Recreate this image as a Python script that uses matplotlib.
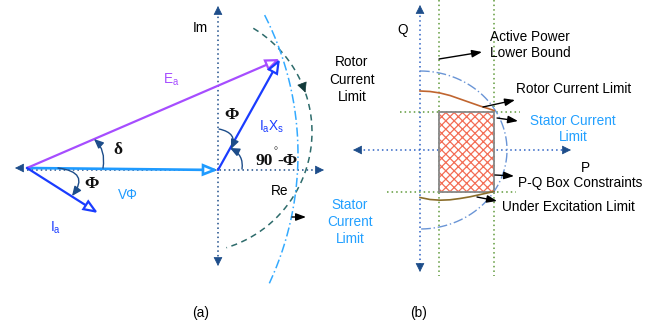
import numpy as np
import matplotlib
matplotlib.use("Agg")
import matplotlib.pyplot as plt
from matplotlib.patches import FancyArrowPatch, Rectangle
from matplotlib.path import Path

plt.rcParams['font.family'] = ['Liberation Sans', 'DejaVu Sans']
plt.rcParams['mathtext.fontset'] = 'custom'
plt.rcParams['mathtext.rm'] = 'Liberation Sans'
plt.rcParams['hatch.linewidth'] = 0.9

# ---------------- data (diagram coordinates, pixel units) ----------------
origin = (27, 168)
vphi_end = (218, 170)
ea_end = (280, 59)
ia_end = (98, 213)
im_axis_x = 218
im_axis_y = (6, 266)
re_axis_y = 170
re_axis_x = (27, 324)
rotor_circle = (191, 132, 121)      # cx, cy, r
rotor_arc_deg = (59, -73)
stator_circle = (-8, 154, 306)
stator_arc_deg = (27, -25)

q_axis_x = 420
q_axis_y = (5, 272)
p_axis_y = 150
p_axis_x = (353, 571)
p_lower, p_upper = 439, 494
q_upper, q_lower = 112, 192
ell_center = (420, 150)
ell_radii = (87, 79)
rotor_curve_x = [420, 430, 440, 450, 460, 470, 480, 488, 494]
rotor_curve_y = [91, 91.5, 93, 95.5, 99, 102.5, 106, 108.5, 110.5]
uel_curve_x = [420, 430, 440, 450, 460, 470, 480, 488, 494]
uel_curve_y = [197.5, 199.5, 200.2, 199.8, 198.5, 196.8, 194.6, 192.8, 191.5]

NAVY = '#1d4d8a'
BLUE = '#1a3cff'
LBLUE = '#1f9bff'
PURPLE = '#a64dff'
TEAL = '#2d6b6b'
GREEN = '#5f9a3a'

fig = plt.figure(figsize=(6.6, 3.26), dpi=100)
ax = fig.add_axes([0, 0, 1, 1])
ax.set_xlim(0, 660)
ax.set_ylim(326, 0)
ax.axis('off')


def head(tip, frm, color=NAVY, ms=7):
    ax.add_patch(FancyArrowPatch(frm, tip, arrowstyle='-|>,head_length=0.8,head_width=0.4',
                                 mutation_scale=ms, color=color, lw=0.5,
                                 shrinkA=0, shrinkB=0, zorder=6))


def vec(a, b, color, lw=1.6):
    ax.add_patch(FancyArrowPatch(a, b, arrowstyle='-|>,head_length=0.55,head_width=0.22',
                                 mutation_scale=15, facecolor='white', edgecolor=color,
                                 lw=lw, shrinkA=0, shrinkB=0, joinstyle='miter', zorder=5))


def curved(p0, c, p1, color=NAVY, lw=1.0):
    path = Path([p0, c, p1], [Path.MOVETO, Path.CURVE3, Path.CURVE3])
    ax.add_patch(FancyArrowPatch(path=path, arrowstyle='-|>,head_length=0.8,head_width=0.35',
                                 mutation_scale=7, color=color, lw=lw, zorder=6))


def arrow(a, b, color='black', lw=1.0):
    ax.add_patch(FancyArrowPatch(a, b, arrowstyle='-|>,head_length=0.75,head_width=0.28',
                                 mutation_scale=8, color=color, lw=lw,
                                 shrinkA=0, shrinkB=0, zorder=6))


dot = (0, (1, 2))

# ---------------- panel (a) ----------------
ax.plot([im_axis_x, im_axis_x], [im_axis_y[0] + 6, im_axis_y[1] - 6], color=NAVY, lw=1.1, ls=dot)
head((im_axis_x, im_axis_y[0]), (im_axis_x, im_axis_y[0] + 8))
head((im_axis_x, im_axis_y[1]), (im_axis_x, im_axis_y[1] - 8))
ax.plot([re_axis_x[0], re_axis_x[1] - 6], [re_axis_y, re_axis_y], color=NAVY, lw=1.1, ls=dot)
head((re_axis_x[1], re_axis_y), (re_axis_x[1] - 8, re_axis_y))
head((15, 168), (23, 168))

# limit arcs
cx, cy, r = rotor_circle
t = np.radians(np.linspace(rotor_arc_deg[0], rotor_arc_deg[1], 200))
ax.plot(cx + r * np.cos(t), cy - r * np.sin(t), color=TEAL, lw=1.1, ls=(0, (4, 3)))
ta, tb = np.radians(22), np.radians(19)
head((cx + r * np.cos(tb), cy - r * np.sin(tb)), (cx + r * np.cos(ta), cy - r * np.sin(ta)),
     color='#123a3a', ms=8)
cx, cy, r = stator_circle
t = np.radians(np.linspace(stator_arc_deg[0], stator_arc_deg[1], 200))
ax.plot(cx + r * np.cos(t), cy - r * np.sin(t), color='#33aaff', lw=1.1, ls=(0, (6, 2, 1, 2)))

# phasors
vec(origin, vphi_end, LBLUE, lw=1.9)
vec(origin, ea_end, PURPLE)
vec(vphi_end, ea_end, BLUE)
vec(origin, ia_end, BLUE)

# angle markers
curved((103, 168), (106, 150), (94, 139))
curved((58, 168), (90, 172), (72, 196))
curved((219, 129), (238, 133), (231, 149))
curved((242, 169), (244, 155), (230, 148))

serif = dict(family='Liberation Serif', fontweight='bold', fontsize=12.5, color='#111111')
ax.text(118, 150, 'δ', ha='center', va='center', **serif)
ax.text(92, 184, 'Φ', ha='center', va='center', **serif)
ax.text(232, 115, 'Φ', ha='center', va='center', **serif)
ax.text(273, 161, '90', ha='right', va='center', **serif)
ax.text(273.5, 152, '°', ha='left', va='center', family='Liberation Serif', fontsize=7, color='#111111')
ax.text(277, 161, '-Φ', ha='left', va='center', **serif)

fs = 9.8
ax.text(200, 28, 'Im', ha='center', va='center', fontsize=fs)
ax.text(280, 191, 'Re', ha='center', va='center', fontsize=fs)
ax.text(171, 80, r'$\mathregular{E_a}$', ha='center', va='center', fontsize=fs, color=PURPLE)
ax.text(272, 127, r'$\mathregular{I_aX_s}$', ha='center', va='center', fontsize=fs, color=BLUE)
ax.text(56, 228, r'$\mathregular{I_a}$', ha='center', va='center', fontsize=fs, color=BLUE)
ax.text(128, 195, 'VΦ', ha='center', va='center', fontsize=fs, color=LBLUE)
for yy, s in zip([62, 80, 97], ['Rotor', 'Current', 'Limit']):
    ax.text(352, yy, s, ha='center', va='center', fontsize=fs)
for yy, s in zip([205, 222, 239], ['Stator', 'Current', 'Limit']):
    ax.text(350, yy, s, ha='center', va='center', fontsize=fs, color='#22a0ff')
arrow((292, 217), (306, 217))
ax.text(201, 313, '(a)', ha='center', va='center', fontsize=fs)

# ---------------- panel (b) ----------------
ax.plot([p_lower, p_lower], [0, 276], color=GREEN, lw=1.1, ls=dot)
ax.plot([p_upper, p_upper], [0, 276], color=GREEN, lw=1.1, ls=dot)
ax.plot([400, 520], [q_upper, q_upper], color=GREEN, lw=1.1, ls=dot)
ax.plot([387, 516], [q_lower, q_lower], color=GREEN, lw=1.1, ls=dot)

ax.plot([q_axis_x, q_axis_x], [q_axis_y[0] + 6, q_axis_y[1] - 6], color='#2d62c4', lw=1.1, ls=dot)
head((q_axis_x, q_axis_y[0]), (q_axis_x, q_axis_y[0] + 8))
head((q_axis_x, q_axis_y[1]), (q_axis_x, q_axis_y[1] - 8))
ax.plot([p_axis_x[0] + 6, p_axis_x[1] - 6], [p_axis_y, p_axis_y], color='#2d62c4', lw=1.1, ls=dot)
head((p_axis_x[0], p_axis_y), (p_axis_x[0] + 8, p_axis_y))
head((p_axis_x[1], p_axis_y), (p_axis_x[1] - 8, p_axis_y))

ax.add_patch(Rectangle((p_lower, q_upper), p_upper - p_lower, q_lower - q_upper,
                       facecolor='white', edgecolor='#f36d55', hatch='xxxx', lw=0, zorder=3))
ax.add_patch(Rectangle((p_lower, q_upper), p_upper - p_lower, q_lower - q_upper,
                       facecolor='none', edgecolor='#888888', lw=1.3, zorder=4))

t = np.radians(np.linspace(90, -90, 200))
ax.plot(ell_center[0] + ell_radii[0] * np.cos(t), ell_center[1] - ell_radii[1] * np.sin(t),
        color='#6a95d6', lw=1.0, ls=(0, (7, 2, 1, 2)), zorder=5)
ax.plot(rotor_curve_x, rotor_curve_y, color='#c0652f', lw=1.2, zorder=5)
ax.plot(uel_curve_x, uel_curve_y, color='#8a6d2a', lw=1.2, zorder=5)

arrow((439, 59), (482, 52))
arrow((483, 107), (515, 100))
arrow((497, 118), (518, 121))
arrow((495, 175), (514, 176))
arrow((477, 197), (497, 201))

ax.text(403, 30, 'Q', ha='center', va='center', fontsize=fs)
ax.text(490, 37, 'Active Power', ha='left', va='center', fontsize=fs)
ax.text(490, 53, 'Lower Bound', ha='left', va='center', fontsize=fs)
ax.text(516, 89, 'Rotor Current Limit', ha='left', va='center', fontsize=fs)
ax.text(573, 121, 'Stator Current', ha='center', va='center', fontsize=fs, color='#22a0ff')
ax.text(573, 137, 'Limit', ha='center', va='center', fontsize=fs, color='#22a0ff')
ax.text(585, 168, 'P', ha='center', va='center', fontsize=fs)
ax.text(518, 183, 'P-Q Box Constraints', ha='left', va='center', fontsize=fs)
ax.text(502, 207, 'Under Excitation Limit', ha='left', va='center', fontsize=fs)
ax.text(419, 313, '(b)', ha='center', va='center', fontsize=fs)

fig.savefig('out.png', dpi=100)
